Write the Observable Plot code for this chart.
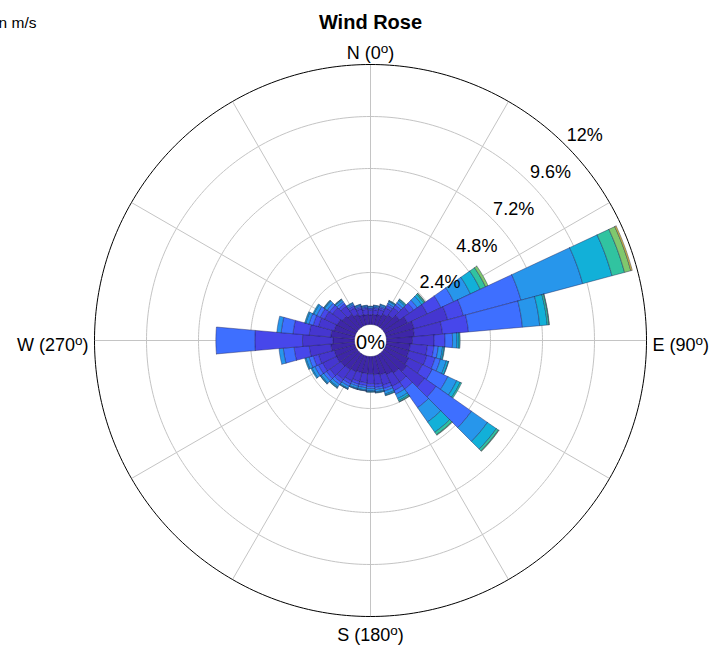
<!DOCTYPE html>
<html><head><meta charset="utf-8">
<script src="https://cdn.jsdelivr.net/npm/d3@7"></script>
<script src="https://cdn.jsdelivr.net/npm/@observablehq/plot@0.6"></script>
<style>
html,body{margin:0;padding:0;background:#fff;}
#chart{width:715px;height:649px;overflow:hidden;}
svg{font-family:"Liberation Sans",Arial,Helvetica,sans-serif;}
</style>
</head><body><div id="chart"></div>
<script>
// ---- data ----
const directions = [0,10,20,30,40,50,60,70,80,90,100,110,120,130,140,150,160,170,180,190,200,210,220,230,240,250,260,270,280,290,300,310,320,330,340,350];
const speedBins = ["[0 2)","[2 4)","[4 6)","[6 8)","[8 10)","[10 12)","[12 14)","[14 16)","[16 18)"];
// frequency (%) per direction, one array per speed bin
const bin1 = [0.45,0.47,0.50,0.60,0.70,0.90,1.15,1.35,1.30,1.20,1.10,1.10,1.20,1.30,1.10,1.00,0.90,0.85,0.80,0.80,0.80,0.85,0.90,0.95,1.00,1.00,1.10,1.00,1.10,1.00,0.95,0.85,0.75,0.60,0.50,0.47];
const bin2 = [0.20,0.22,0.25,0.32,0.40,0.55,1.00,1.60,1.30,1.00,0.80,0.85,0.70,1.00,0.50,0.60,0.50,0.45,0.45,0.42,0.42,0.47,0.55,0.60,0.70,0.75,1.00,1.40,1.00,0.75,0.65,0.55,0.45,0.33,0.28,0.24];
const bin3 = [0.08,0.08,0.09,0.13,0.16,0.25,0.70,0.75,1.20,0.50,0.30,0.40,0.50,0.65,0.40,0.22,0.16,0.14,0.14,0.13,0.13,0.15,0.17,0.20,0.22,0.25,0.70,2.20,0.75,0.25,0.22,0.17,0.14,0.10,0.08,0.07];
const bin4 = [0.04,0.05,0.06,0.09,0.12,0.20,0.65,2.75,2.50,0.35,0.20,0.25,0.80,2.00,1.05,0.18,0.12,0.10,0.10,0.10,0.10,0.12,0.13,0.15,0.18,0.20,0.50,1.80,0.55,0.20,0.18,0.13,0.11,0.07,0.06,0.05];
const bin5 = [0.06,0.06,0.07,0.10,0.13,0.25,0.85,2.95,0.80,0.20,0.20,0.28,0.45,0.90,0.80,0.22,0.14,0.10,0.10,0.10,0.10,0.11,0.13,0.14,0.15,0.15,0.20,0.00,0.20,0.15,0.15,0.14,0.10,0.07,0.06,0.05];
const bin6 = [0.02,0.02,0.03,0.04,0.06,0.12,0.50,1.40,0.35,0.10,0.07,0.10,0.18,0.50,0.58,0.10,0.06,0.04,0.04,0.04,0.04,0.04,0.05,0.05,0.05,0.05,0.00,0.00,0.00,0.05,0.05,0.04,0.04,0.03,0.02,0.02];
const bin7 = [0.00,0.00,0.00,0.02,0.03,0.06,0.27,0.60,0.08,0.05,0.03,0.02,0.07,0.12,0.14,0.06,0.02,0.02,0.02,0.01,0.01,0.01,0.02,0.01,0.00,0.00,0.00,0.00,0.00,0.00,0.00,0.02,0.01,0.00,0.00,0.00];
const bin8 = [0.00,0.00,0.00,0.00,0.00,0.02,0.13,0.30,0.02,0.00,0.00,0.00,0.00,0.03,0.03,0.02,0.00,0.00,0.00,0.00,0.00,0.00,0.00,0.00,0.00,0.00,0.00,0.00,0.00,0.00,0.00,0.00,0.00,0.00,0.00,0.00];
const bin9 = [0.00,0.00,0.00,0.00,0.00,0.00,0.00,0.07,0.00,0.00,0.00,0.00,0.00,0.00,0.00,0.00,0.00,0.00,0.00,0.00,0.00,0.00,0.00,0.00,0.00,0.00,0.00,0.00,0.00,0.00,0.00,0.00,0.00,0.00,0.00,0.00];
const bins = [bin1,bin2,bin3,bin4,bin5,bin6,bin7,bin8,bin9];
const binColors = ["#3e26a8","#4536d0","#4747eb","#3e6fff","#2796eb","#12b0d8","#31c3a0","#80c86d","#d8bd3f"];
const ringTicks = [2.4,4.8,7.2,9.6,12];
const ringLabels = ["2.4%","4.8%","7.2%","9.6%","12%"];
const spokeAngles = [0,30,60,90,120,150,180,210,240,270,300,330];
const dirLabels = [
  {text:"N (0°)", angle:0},
  {text:"E (90°)", angle:90},
  {text:"S (180°)", angle:180},
  {text:"W (270°)", angle:270}
];
const titleText = "Wind Rose";
const legendTitle = "Wind speed in m/s";

// ---- layout ----
const W = 715, H = 649;
const cx = 370, cy = 340;         // centre in px
const pxPerPct = 260/12;          // radial scale
const hole = 16/pxPerPct;         // empty centre (in % units)
const rad = a => a*Math.PI/180;
const P = (a, r) => ({x: r*Math.sin(rad(a)), y: r*Math.cos(rad(a))});

// wedges
const rows = [];
directions.forEach((d,i) => {
  let cum = 0;
  bins.forEach((arr,k) => {
    const v = arr[i]; if (!v) return;
    const r0 = hole+cum, r1 = hole+cum+v; cum += v;
    const id = d+"-"+k;
    const pts = [];
    for (let a=d-5; a<=d+5+1e-9; a+=0.5) pts.push([a,r1]);
    for (let a=d+5; a>=d-5-1e-9; a-=0.5) pts.push([a,r0]);
    pts.push([d-5,r1]);
    pts.forEach(([a,r]) => rows.push({id, color: binColors[k], ...P(a,r)}));
  });
});
// grid rings
const ringRows = [];
ringTicks.forEach(t => { for (let a=0;a<=360;a+=1) ringRows.push({ring:t, ...P(a, hole+t)}); });
const spokes = spokeAngles.map(a => { const p0=P(a,hole), p1=P(a,hole+12); return {x1:p0.x,y1:p0.y,x2:p1.x,y2:p1.y}; });
const ringLabelRows = ringTicks.map((t,i) => ({label: ringLabels[i], ...P(45, hole+t)}));
const dirOffset = {0:287, 90:282, 180:295, 270:282};
const dirRows = dirLabels.map(d => ({...d, ...P(d.angle, dirOffset[d.angle]/pxPerPct)}));

const chart = Plot.plot({
  width: W, height: H, margin: 0,
  x: {domain: [-cx/pxPerPct, (W-cx)/pxPerPct], axis: null},
  y: {domain: [-(H-cy)/pxPerPct, cy/pxPerPct], axis: null},
  color: {type: "identity"},
  style: {fontFamily: "'Liberation Sans', Arial, sans-serif", color: "#000", background: "#fff"},
  marks: [
    Plot.line(ringRows.filter(r=>r.ring<12), {x:"x", y:"y", z:"ring", stroke:"#c4c4c4", strokeWidth:1}),
    Plot.link(spokes, {x1:"x1", y1:"y1", x2:"x2", y2:"y2", stroke:"#c4c4c4", strokeWidth:1}),
    Plot.line(rows, {x:"x", y:"y", z:"id", fill:"color", stroke:"#1e1e50", strokeOpacity:0.6, strokeWidth:0.7, curve:"linear"}),
    Plot.line(ringRows.filter(r=>r.ring===12), {x:"x", y:"y", stroke:"#000", strokeWidth:1}),
    Plot.text(ringLabelRows, {x:"x", y:"y", text:"label", fontSize:18, fill:"#000", textAnchor:"start", lineAnchor:"bottom", dx:1, dy:-4}),
    Plot.text(["0%"], {x: () => 0, y: () => 0, fontSize:20, fill:"#000", lineAnchor:"middle", dy:2}),
    Plot.text(dirRows.filter(d=>d.angle===0||d.angle===180), {x:"x", y:"y", text:"text", textAnchor:"middle", lineAnchor:"middle", fontSize:18, fill:"#000", className:"dirlab"}),
    Plot.text(dirRows.filter(d=>d.angle===90), {x:"x", y:"y", text:"text", textAnchor:"start", lineAnchor:"middle", dy:5, fontSize:18, fill:"#000", className:"dirlab"}),
    Plot.text(dirRows.filter(d=>d.angle===270), {x:"x", y:"y", text:"text", textAnchor:"end", lineAnchor:"middle", dy:5, fontSize:18, fill:"#000", className:"dirlab"}),
    Plot.text([titleText], {frameAnchor:"top", lineAnchor:"middle", dx:12.5, dy:22.5, fontSize:20, fontWeight:"bold", fill:"#000"}),
    Plot.text([legendTitle], {frameAnchor:"top-left", textAnchor:"end", lineAnchor:"middle", dx:36, dy:23, fontSize:15.5, fill:"#000"})
  ]
});
document.getElementById("chart").appendChild(chart);
// superscript degree marks as in the original ("0" + raised "o")
d3.select(chart).selectAll(".dirlab text").each(function(){
  const s = this.textContent;
  const m = s.match(/^(.*\(\d+)°(\))$/);
  if (!m) return;
  const t = d3.select(this); t.text(null);
  t.append("tspan").text(m[1]);
  t.append("tspan").attr("dy","-0.5em").attr("font-size","0.75em").text("o");
  t.append("tspan").attr("dy","0.375em").text(m[2]);
});
</script>
</body></html>
